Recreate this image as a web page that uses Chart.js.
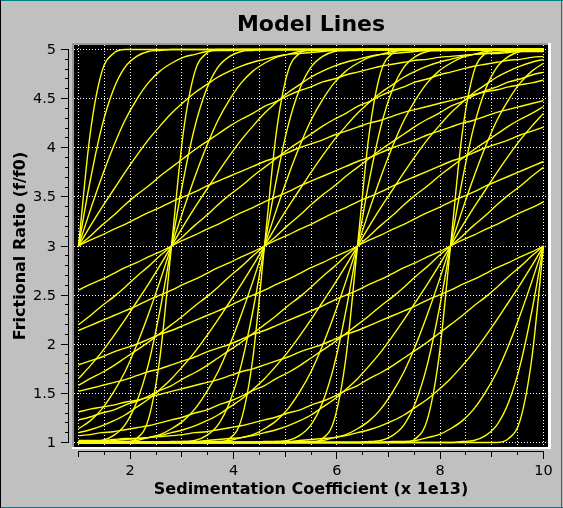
<!DOCTYPE html>
<html lang="en">
<head>
<meta charset="utf-8">
<title>Model Lines</title>
<script src="https://cdn.jsdelivr.net/npm/chart.js@4.4.1/dist/chart.umd.min.js"></script>
<style>
  body { margin: 0; background: #c0c0c0; }
  canvas { display: block; }
</style>
</head>
<body>
<canvas id="modelLines" width="563" height="508"></canvas>
<script>
// sedimentation coefficient (x 1e13) sample points shared by all model lines
const sedCoeff = [1, 1.225, 1.45, 1.675, 1.9, 2.125, 2.35, 2.575, 2.8, 3.025, 3.25, 3.475, 3.7, 3.925, 4.15, 4.375, 4.6, 4.825, 5.05, 5.275, 5.5, 5.725, 5.95, 6.175, 6.4, 6.625, 6.85, 7.075, 7.3, 7.525, 7.75, 7.975, 8.2, 8.425, 8.65, 8.875, 9.1, 9.325, 9.55, 9.775, 10];

// frictional ratio along each line, grouped by where the line crosses f/f0 = 3
// widest line first, steepest last
const fanAt1 = [
  [3,3.06,3.11,3.17,3.22,3.28,3.34,3.39,3.45,3.5,3.55,3.61,3.66,3.71,3.76,3.81,3.86,3.9,3.95,4,4.04,4.08,4.13,4.17,4.21,4.25,4.28,4.32,4.36,4.39,4.42,4.45,4.48,4.51,4.54,4.57,4.59,4.62,4.64,4.66,4.69],
  [3,3.1,3.21,3.31,3.42,3.52,3.61,3.71,3.8,3.89,3.98,4.06,4.14,4.22,4.29,4.35,4.42,4.47,4.53,4.58,4.62,4.67,4.7,4.74,4.77,4.8,4.83,4.85,4.87,4.89,4.9,4.92,4.93,4.94,4.95,4.96,4.96,4.97,4.98,4.98,4.98],
  [3,3.2,3.39,3.57,3.75,3.92,4.08,4.22,4.35,4.46,4.56,4.64,4.72,4.78,4.83,4.87,4.9,4.93,4.95,4.96,4.97,4.98,4.99,4.99,4.99,5,5,5,5,5,5,5,5,5,5,5,5,5,5,5,5],
  [3,3.36,3.7,4.01,4.28,4.49,4.66,4.78,4.86,4.92,4.95,4.98,4.99,4.99,5,5,5,5,5,5,5,5,5,5,5,5,5,5,5,5,5,5,5,5,5,5,5,5,5,5,5],
  [3,3.66,4.21,4.59,4.82,4.93,4.98,4.99,5,5,5,5,5,5,5,5,5,5,5,5,5,5,5,5,5,5,5,5,5,5,5,5,5,5,5,5,5,5,5,5,5],
  [3,4.14,4.77,4.96,5,5,5,5,5,5,5,5,5,5,5,5,5,5,5,5,5,5,5,5,5,5,5,5,5,5,5,5,5,5,5,5,5,5,5,5,5]
];
const fanAt28 = [
  [2.55,2.61,2.66,2.72,2.78,2.83,2.89,2.94,3,3.06,3.11,3.17,3.22,3.28,3.34,3.39,3.45,3.5,3.55,3.61,3.66,3.71,3.76,3.81,3.86,3.9,3.95,4,4.04,4.08,4.13,4.17,4.21,4.25,4.28,4.32,4.36,4.39,4.42,4.45,4.48],
  [2.2,2.29,2.39,2.48,2.58,2.69,2.79,2.9,3,3.1,3.21,3.31,3.42,3.52,3.61,3.71,3.8,3.89,3.98,4.06,4.14,4.22,4.29,4.35,4.42,4.47,4.53,4.58,4.62,4.67,4.7,4.74,4.77,4.8,4.83,4.85,4.87,4.89,4.9,4.92,4.93],
  [1.65,1.78,1.92,2.08,2.25,2.43,2.61,2.8,3,3.2,3.39,3.57,3.75,3.92,4.08,4.22,4.35,4.46,4.56,4.64,4.72,4.78,4.83,4.87,4.9,4.93,4.95,4.96,4.97,4.98,4.99,4.99,4.99,5,5,5,5,5,5,5,5],
  [1.14,1.22,1.34,1.51,1.72,1.99,2.3,2.64,3,3.36,3.7,4.01,4.28,4.49,4.66,4.78,4.86,4.92,4.95,4.98,4.99,4.99,5,5,5,5,5,5,5,5,5,5,5,5,5,5,5,5,5,5,5],
  [1,1.01,1.02,1.07,1.18,1.41,1.79,2.34,3,3.66,4.21,4.59,4.82,4.93,4.98,4.99,5,5,5,5,5,5,5,5,5,5,5,5,5,5,5,5,5,5,5,5,5,5,5,5,5],
  [1,1,1,1,1,1.04,1.23,1.86,3,4.14,4.77,4.96,5,5,5,5,5,5,5,5,5,5,5,5,5,5,5,5,5,5,5,5,5,5,5,5,5,5,5,5,5]
];
const fanAt46 = [
  [2.14,2.19,2.24,2.29,2.34,2.39,2.45,2.5,2.55,2.61,2.66,2.72,2.78,2.83,2.89,2.94,3,3.06,3.11,3.17,3.22,3.28,3.34,3.39,3.45,3.5,3.55,3.61,3.66,3.71,3.76,3.81,3.86,3.9,3.95,4,4.04,4.08,4.13,4.17,4.21],
  [1.58,1.65,1.71,1.78,1.86,1.94,2.02,2.11,2.2,2.29,2.39,2.48,2.58,2.69,2.79,2.9,3,3.1,3.21,3.31,3.42,3.52,3.61,3.71,3.8,3.89,3.98,4.06,4.14,4.22,4.29,4.35,4.42,4.47,4.53,4.58,4.62,4.67,4.7,4.74,4.77],
  [1.1,1.13,1.17,1.22,1.28,1.36,1.44,1.54,1.65,1.78,1.92,2.08,2.25,2.43,2.61,2.8,3,3.2,3.39,3.57,3.75,3.92,4.08,4.22,4.35,4.46,4.56,4.64,4.72,4.78,4.83,4.87,4.9,4.93,4.95,4.96,4.97,4.98,4.99,4.99,4.99],
  [1,1,1,1.01,1.01,1.02,1.05,1.08,1.14,1.22,1.34,1.51,1.72,1.99,2.3,2.64,3,3.36,3.7,4.01,4.28,4.49,4.66,4.78,4.86,4.92,4.95,4.98,4.99,4.99,5,5,5,5,5,5,5,5,5,5,5],
  [1,1,1,1,1,1,1,1,1,1.01,1.02,1.07,1.18,1.41,1.79,2.34,3,3.66,4.21,4.59,4.82,4.93,4.98,4.99,5,5,5,5,5,5,5,5,5,5,5,5,5,5,5,5,5],
  [1,1,1,1,1,1,1,1,1,1,1,1,1,1.04,1.23,1.86,3,4.14,4.77,4.96,5,5,5,5,5,5,5,5,5,5,5,5,5,5,5,5,5,5,5,5,5]
];
const fanAt64 = [
  [1.79,1.83,1.87,1.92,1.96,2,2.05,2.1,2.14,2.19,2.24,2.29,2.34,2.39,2.45,2.5,2.55,2.61,2.66,2.72,2.78,2.83,2.89,2.94,3,3.06,3.11,3.17,3.22,3.28,3.34,3.39,3.45,3.5,3.55,3.61,3.66,3.71,3.76,3.81,3.86],
  [1.23,1.26,1.3,1.33,1.38,1.42,1.47,1.53,1.58,1.65,1.71,1.78,1.86,1.94,2.02,2.11,2.2,2.29,2.39,2.48,2.58,2.69,2.79,2.9,3,3.1,3.21,3.31,3.42,3.52,3.61,3.71,3.8,3.89,3.98,4.06,4.14,4.22,4.29,4.35,4.42],
  [1.01,1.01,1.01,1.02,1.03,1.04,1.05,1.07,1.1,1.13,1.17,1.22,1.28,1.36,1.44,1.54,1.65,1.78,1.92,2.08,2.25,2.43,2.61,2.8,3,3.2,3.39,3.57,3.75,3.92,4.08,4.22,4.35,4.46,4.56,4.64,4.72,4.78,4.83,4.87,4.9],
  [1,1,1,1,1,1,1,1,1,1,1,1.01,1.01,1.02,1.05,1.08,1.14,1.22,1.34,1.51,1.72,1.99,2.3,2.64,3,3.36,3.7,4.01,4.28,4.49,4.66,4.78,4.86,4.92,4.95,4.98,4.99,4.99,5,5,5],
  [1,1,1,1,1,1,1,1,1,1,1,1,1,1,1,1,1,1.01,1.02,1.07,1.18,1.41,1.79,2.34,3,3.66,4.21,4.59,4.82,4.93,4.98,4.99,5,5,5,5,5,5,5,5,5],
  [1,1,1,1,1,1,1,1,1,1,1,1,1,1,1,1,1,1,1,1,1,1.04,1.23,1.86,3,4.14,4.77,4.96,5,5,5,5,5,5,5,5,5,5,5,5,5]
];
const fanAt82 = [
  [1.52,1.55,1.58,1.61,1.64,1.68,1.72,1.75,1.79,1.83,1.87,1.92,1.96,2,2.05,2.1,2.14,2.19,2.24,2.29,2.34,2.39,2.45,2.5,2.55,2.61,2.66,2.72,2.78,2.83,2.89,2.94,3,3.06,3.11,3.17,3.22,3.28,3.34,3.39,3.45],
  [1.07,1.08,1.1,1.11,1.13,1.15,1.17,1.2,1.23,1.26,1.3,1.33,1.38,1.42,1.47,1.53,1.58,1.65,1.71,1.78,1.86,1.94,2.02,2.11,2.2,2.29,2.39,2.48,2.58,2.69,2.79,2.9,3,3.1,3.21,3.31,3.42,3.52,3.61,3.71,3.8],
  [1,1,1,1,1,1,1,1,1.01,1.01,1.01,1.02,1.03,1.04,1.05,1.07,1.1,1.13,1.17,1.22,1.28,1.36,1.44,1.54,1.65,1.78,1.92,2.08,2.25,2.43,2.61,2.8,3,3.2,3.39,3.57,3.75,3.92,4.08,4.22,4.35],
  [1,1,1,1,1,1,1,1,1,1,1,1,1,1,1,1,1,1,1,1.01,1.01,1.02,1.05,1.08,1.14,1.22,1.34,1.51,1.72,1.99,2.3,2.64,3,3.36,3.7,4.01,4.28,4.49,4.66,4.78,4.86],
  [1,1,1,1,1,1,1,1,1,1,1,1,1,1,1,1,1,1,1,1,1,1,1,1,1,1.01,1.02,1.07,1.18,1.41,1.79,2.34,3,3.66,4.21,4.59,4.82,4.93,4.98,4.99,5],
  [1,1,1,1,1,1,1,1,1,1,1,1,1,1,1,1,1,1,1,1,1,1,1,1,1,1,1,1,1,1.04,1.23,1.86,3,4.14,4.77,4.96,5,5,5,5,5]
];
const fanAt10 = [
  [1.31,1.34,1.36,1.38,1.41,1.43,1.46,1.49,1.52,1.55,1.58,1.61,1.64,1.68,1.72,1.75,1.79,1.83,1.87,1.92,1.96,2,2.05,2.1,2.14,2.19,2.24,2.29,2.34,2.39,2.45,2.5,2.55,2.61,2.66,2.72,2.78,2.83,2.89,2.94,3],
  [1.02,1.02,1.02,1.03,1.04,1.04,1.05,1.06,1.07,1.08,1.1,1.11,1.13,1.15,1.17,1.2,1.23,1.26,1.3,1.33,1.38,1.42,1.47,1.53,1.58,1.65,1.71,1.78,1.86,1.94,2.02,2.11,2.2,2.29,2.39,2.48,2.58,2.69,2.79,2.9,3],
  [1,1,1,1,1,1,1,1,1,1,1,1,1,1,1,1,1.01,1.01,1.01,1.02,1.03,1.04,1.05,1.07,1.1,1.13,1.17,1.22,1.28,1.36,1.44,1.54,1.65,1.78,1.92,2.08,2.25,2.43,2.61,2.8,3],
  [1,1,1,1,1,1,1,1,1,1,1,1,1,1,1,1,1,1,1,1,1,1,1,1,1,1,1,1.01,1.01,1.02,1.05,1.08,1.14,1.22,1.34,1.51,1.72,1.99,2.3,2.64,3],
  [1,1,1,1,1,1,1,1,1,1,1,1,1,1,1,1,1,1,1,1,1,1,1,1,1,1,1,1,1,1,1,1,1,1.01,1.02,1.07,1.18,1.41,1.79,2.34,3],
  [1,1,1,1,1,1,1,1,1,1,1,1,1,1,1,1,1,1,1,1,1,1,1,1,1,1,1,1,1,1,1,1,1,1,1,1,1,1.04,1.23,1.86,3]
];

// axis ticks
const xGridValues = [1, 1.5, 2, 2.5, 3, 3.5, 4, 4.5, 5, 5.5, 6, 6.5, 7, 7.5, 8, 8.5, 9, 9.5, 10];
const xLabelValues = [2, 4, 6, 8, 10];
const yLabelValues = [1, 1.5, 2, 2.5, 3, 3.5, 4, 4.5, 5];

Chart.defaults.font.family = "'DejaVu Sans', sans-serif";
Chart.defaults.color = '#000';

const fans = [fanAt1, fanAt28, fanAt46, fanAt64, fanAt82, fanAt10];
const datasets = [];
fans.forEach(fan => {
  fan.forEach(ratios => {
    datasets.push({
      data: ratios.map((r, i) => ({ x: sedCoeff[i], y: r })),
      borderColor: '#ffff00',
      borderWidth: 1.4,
      pointRadius: 0,
      cubicInterpolationMode: 'monotone',
      fill: false
    });
  });
});

// qwt style canvas frame, dotted grid, tick marks and left tick labels
const qwtLook = {
  id: 'qwtLook',
  beforeDraw(chart) {
    const { ctx, chartArea: a, width, height } = chart;
    ctx.save();
    ctx.fillStyle = '#c0c0c0';
    ctx.fillRect(0, 0, width, height);
    ctx.fillStyle = '#008080';
    ctx.fillRect(0, 0, width, 1);
    ctx.fillRect(0, height - 1, width, 1);
    ctx.fillRect(width - 2, 0, 1, height);
    ctx.fillStyle = '#000';
    ctx.fillRect(0, 0, 1, height);
    // sunken frame
    ctx.fillStyle = '#9a9a9a';
    ctx.fillRect(a.left - 2, a.top - 2, a.right - a.left + 5, 2);
    ctx.fillRect(a.left - 2, a.top - 2, 2, a.bottom - a.top + 4);
    ctx.fillStyle = '#ffffff';
    ctx.fillRect(a.left - 2, a.bottom, a.right - a.left + 5, 2);
    ctx.fillRect(a.right, a.top - 2, 3, a.bottom - a.top + 4);
    ctx.fillStyle = '#000';
    ctx.fillRect(a.left, a.top, a.right - a.left, a.bottom - a.top);
    ctx.restore();
  },
  beforeDatasetsDraw(chart) {
    const { ctx, chartArea: a, scales: { x, y } } = chart;
    ctx.save();
    ctx.beginPath();
    ctx.rect(a.left, a.top, a.right - a.left, a.bottom - a.top);
    ctx.clip();
    ctx.strokeStyle = '#ffffff';
    ctx.lineWidth = 1;
    ctx.setLineDash([1, 2]);
    ctx.beginPath();
    x.ticks.forEach(t => {
      const px = Math.floor(x.getPixelForValue(t.value)) + 0.5;
      ctx.moveTo(px, a.top);
      ctx.lineTo(px, a.bottom);
    });
    y.ticks.forEach(t => {
      const py = Math.floor(y.getPixelForValue(t.value)) + 0.5;
      ctx.moveTo(a.left, py);
      ctx.lineTo(a.right, py);
    });
    ctx.stroke();
    ctx.restore();
  },
  afterDraw(chart) {
    const { ctx, chartArea: a, scales: { x, y } } = chart;
    ctx.save();
    ctx.fillStyle = '#000';
    // left axis
    const bx = a.left - 6;
    const yTop = Math.floor(y.getPixelForValue(yLabelValues[yLabelValues.length - 1]));
    const yBot = Math.floor(y.getPixelForValue(yLabelValues[0]));
    ctx.fillRect(bx, yTop, 1, yBot - yTop + 1);
    ctx.font = '14.5px "DejaVu Sans", sans-serif';
    ctx.textAlign = 'right';
    ctx.textBaseline = 'middle';
    yLabelValues.forEach((v, i) => {
      const py = Math.floor(y.getPixelForValue(v));
      ctx.fillRect(bx - 7, py, 8, 1);
      ctx.fillText(String(v), a.left - 18, py + 1);
      if (i < yLabelValues.length - 1) {
        const step = (yLabelValues[i + 1] - v) / 5;
        for (let k = 1; k < 5; k++) {
          const pm = Math.floor(y.getPixelForValue(v + k * step));
          ctx.fillRect(bx - 3, pm, 4, 1);
        }
      }
    });
    // bottom axis
    const by = a.bottom + 4;
    const xL = Math.floor(x.getPixelForValue(xGridValues[0]));
    const xR = Math.floor(x.getPixelForValue(xGridValues[xGridValues.length - 1]));
    ctx.fillRect(xL, by, xR - xL + 1, 1);
    xGridValues.forEach(v => {
      const px = Math.floor(x.getPixelForValue(v));
      let len = 4;
      if (xLabelValues.includes(v)) len = 8;
      else if (Number.isInteger(v)) len = 6;
      ctx.fillRect(px, by, 1, len);
    });
    ctx.restore();
  }
};

new Chart(document.getElementById('modelLines'), {
  type: 'line',
  data: { datasets },
  options: {
    responsive: false,
    animation: false,
    devicePixelRatio: 1,
    layout: { padding: { left: 0, right: 15, top: 0, bottom: 0 } },
    plugins: {
      legend: { display: false },
      tooltip: { enabled: false },
      title: {
        display: true,
        text: 'Model Lines',
        fullSize: false,
        color: '#000',
        font: { size: 22, weight: 'bold' },
        padding: { top: 12.5, bottom: 6.1 }
      }
    },
    scales: {
      x: {
        type: 'linear',
        min: 0.9129,
        max: 10.0871,
        afterBuildTicks: s => { s.ticks = xGridValues.map(v => ({ value: v })); },
        afterFit: s => { s.height = 61; s.paddingLeft = 0; s.paddingRight = 0; },
        grid: { display: false },
        border: { display: false },
        ticks: {
          autoSkip: false,
          maxRotation: 0,
          padding: 7.5,
          font: { size: 14.5 },
          callback: v => xLabelValues.includes(v) ? String(v) : ''
        },
        title: {
          display: true,
          text: 'Sedimentation Coefficient (x 1e13)',
          font: { size: 16, weight: 'bold' },
          padding: { top: 0, bottom: 9 }
        }
      },
      y: {
        type: 'linear',
        min: 0.9542,
        max: 5.0458,
        afterBuildTicks: s => { s.ticks = yLabelValues.map(v => ({ value: v })); },
        afterFit: s => { s.width = 74; s.paddingTop = 0; s.paddingBottom = 0; },
        grid: { display: false },
        border: { display: false },
        ticks: { display: false },
        title: {
          display: true,
          text: 'Frictional Ratio (f/f0)',
          font: { size: 16, weight: 'bold' },
          padding: { top: 11, bottom: 0 }
        }
      }
    }
  },
  plugins: [qwtLook]
});
</script>
</body>
</html>
